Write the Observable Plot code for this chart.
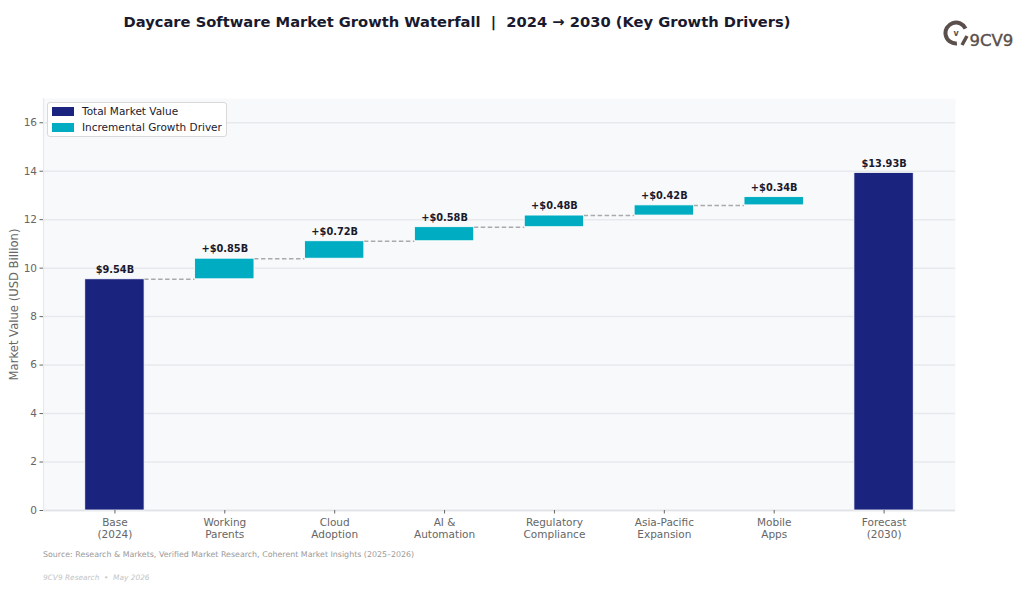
<!DOCTYPE html>
<html><head><meta charset="utf-8">
<script src="https://cdn.jsdelivr.net/npm/d3@7"></script>
<script src="https://cdn.jsdelivr.net/npm/@observablehq/plot@0.6"></script>
<style>
html,body{margin:0;padding:0;background:#fff;width:1024px;height:589px;overflow:hidden;font-family:"DejaVu Sans",sans-serif}
#wrap{position:relative;width:1024px;height:589px}
#title{position:absolute;left:0;top:13px;width:914px;text-align:center;font-size:14.7px;font-weight:700;color:#1a1a2e;white-space:nowrap}
#chart{position:absolute;left:0;top:90px}
#legend{position:absolute;left:47px;top:102px;width:178px;height:33px;background:rgba(255,255,255,.92);border:1px solid #d9d9d9;border-radius:3px;font-size:10.5px;color:#1a1a2e}
#legend div{position:absolute;left:4px;height:15px;line-height:15px;white-space:nowrap}
#legend i{display:inline-block;width:22px;height:9px;margin-right:8px;vertical-align:-0.5px}
#source{position:absolute;left:43px;top:550px;font-size:7.9px;color:#999}
#stamp{position:absolute;left:43px;top:573px;font-size:7.4px;font-style:italic;color:#c4c4c4}
#logo{position:absolute;left:942px;top:20px}
</style></head><body>
<div id="wrap">
<div id="chart"></div>
<div id="title">Daycare Software Market Growth Waterfall &nbsp;|&nbsp; 2024 → 2030 (Key Growth Drivers)</div>
<div id="legend"><div style="top:1px"><i style="background:#1a237e"></i>Total Market Value</div><div style="top:17px"><i style="background:#00acc1"></i>Incremental Growth Driver</div></div>
<div id="source">Source: Research &amp; Markets, Verified Market Research, Coherent Market Insights (2025–2026)</div>
<div id="stamp">9CV9 Research &nbsp;•&nbsp; May 2026</div>
<svg id="logo" width="74" height="30" viewBox="0 0 74 30">
<path d="M14.9 23.5 A10.5 10.5 0 1 1 23.5 8.6" fill="none" stroke="#5a4f4b" stroke-width="4"/>
<path d="M25 16 L20 25" stroke="#5a4f4b" stroke-width="3.5" fill="none"/>
<text x="14" y="16" text-anchor="middle" font-size="8" font-weight="700" fill="#5a4f4b" font-family="DejaVu Sans">v</text>
<text x="27.5" y="26" font-size="16.5" fill="#5a4f4b" stroke="#5a4f4b" stroke-width="0.4" font-family="DejaVu Sans">9CV9</text>
</svg>
</div>
<script>
const categories = ["Base\n(2024)","Working\nParents","Cloud\nAdoption","AI &\nAutomation","Regulatory\nCompliance","Asia-Pacific\nExpansion","Mobile\nApps","Forecast\n(2030)"];
const starts = [0,9.54,10.39,11.11,11.69,12.17,12.59,0];
const ends = [9.54,10.39,11.11,11.69,12.17,12.59,12.93,13.93];
const labels = ["$9.54B","+$0.85B","+$0.72B","+$0.58B","+$0.48B","+$0.42B","+$0.34B","$13.93B"];
const kinds = ["total","driver","driver","driver","driver","driver","driver","total"];
const yTicks = [0,2,4,6,8,10,12,14,16];
const halfWidth = 0.27;

const bars = categories.map((c,i)=>({i,c,start:starts[i],end:ends[i],label:labels[i],kind:kinds[i]}));
const links = bars.slice(0,6).map(d=>({x1:d.i+halfWidth,x2:d.i+1-halfWidth,y:d.end}));
const ink = "#666";

const plot = Plot.plot({
  width:1024,height:456,
  marginLeft:43,marginRight:69,marginTop:8,marginBottom:36,
  style:{fontFamily:"DejaVu Sans",background:"transparent",overflow:"visible"},
  x:{domain:[-0.65,7.65]},
  y:{domain:[0,17]},
  color:{domain:["total","driver"],range:["#1a237e","#00acc1"]},
  marks:[
    Plot.frame({fill:"#f8f9fb",stroke:null}),
    Plot.ruleY(yTicks,{stroke:"#e8e9ed",strokeWidth:1.5}),
    Plot.ruleY([0],{stroke:"#e0e2e6",strokeWidth:1.5}),
    Plot.ruleX([-0.65],{stroke:"#e8e9ed",strokeWidth:1.2}),
    Plot.ruleY(links,{x1:"x1",x2:"x2",y:"y",stroke:"#aaa",strokeWidth:1.5,strokeDasharray:"4.5 2.5"}),
    Plot.rectY(bars,{x1:d=>d.i-halfWidth,x2:d=>d.i+halfWidth,y1:"start",y2:"end",fill:"kind",stroke:"#fff",strokeWidth:0.8}),
    Plot.text(bars,{x:"i",y:"end",text:"label",dy:-9.5,fontSize:9.8,fontWeight:700,fill:"#1a1a2e"}),
    Plot.axisY({ticks:yTicks,tickSize:3.5,tickPadding:3,fontSize:10.5,color:ink,stroke:"#666",label:null}),
    Plot.axisX({ticks:d3.range(categories.length),tickFormat:i=>categories[i],tickSize:3.5,tickPadding:4,fontSize:10.5,color:ink,stroke:"#666",label:null,lineHeight:1.12}),
    Plot.text(["Market Value (USD Billion)"],{frameAnchor:"left",textAnchor:"middle",rotate:-90,dx:-29,fontSize:11.6,fill:ink})
  ]
});
document.getElementById("chart").append(plot);
</script>
</body></html>
